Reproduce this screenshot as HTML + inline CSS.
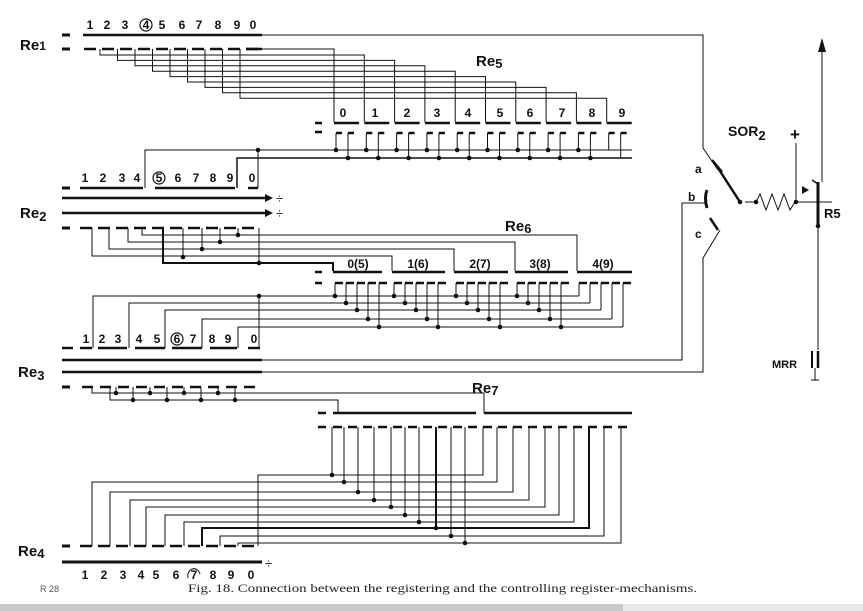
<!DOCTYPE html>
<html><head><meta charset="utf-8"><style>
html,body{margin:0;padding:0;background:#fff;width:863px;height:611px;overflow:hidden}
svg{display:block}
</style></head><body>
<svg id="s" width="863" height="611" viewBox="0 0 863 611" xmlns="http://www.w3.org/2000/svg" stroke="#111" fill="none" stroke-width="1">
<rect x="0" y="604" width="623" height="7" fill="#c9c9c9" stroke="none"/>
<rect x="623" y="604" width="240" height="7" fill="#e9e9e9" stroke="none"/>
<g stroke="none" fill="#111" font-family="Liberation Sans, sans-serif" font-weight="bold">
<text x="20" y="50" font-size="15">Re<tspan font-size="12">1</tspan></text>
<text x="20" y="218" font-size="15">Re<tspan font-size="13" dy="3">2</tspan></text>
<text x="18" y="377" font-size="15">Re<tspan font-size="13" dy="3">3</tspan></text>
<text x="18" y="556" font-size="15">Re<tspan font-size="13" dy="2">4</tspan></text>
<text x="476" y="66" font-size="15">Re<tspan font-size="13" dy="2">5</tspan></text>
<text x="505" y="231" font-size="15">Re<tspan font-size="13" dy="2">6</tspan></text>
<text x="472" y="393" font-size="15">Re<tspan font-size="13" dy="2">7</tspan></text>
<g font-size="12" text-anchor="middle">
<text x="90" y="29">1</text><text x="107" y="29">2</text><text x="125" y="29">3</text><text x="146" y="29">4</text><text x="162" y="29">5</text><text x="182" y="29">6</text><text x="199" y="29">7</text><text x="218" y="29">8</text><text x="237" y="29">9</text><text x="253" y="29">0</text>
<text x="85" y="182">1</text><text x="103" y="182">2</text><text x="122" y="182">3</text><text x="137" y="182">4</text><text x="159" y="182">5</text><text x="178" y="182">6</text><text x="196" y="182">7</text><text x="213" y="182">8</text><text x="230" y="182">9</text><text x="252" y="182">0</text>
<text x="86" y="343">1</text><text x="102" y="343">2</text><text x="118" y="343">3</text><text x="139" y="343">4</text><text x="157" y="343">5</text><text x="177" y="343">6</text><text x="193" y="343">7</text><text x="212" y="343">8</text><text x="228" y="343">9</text><text x="254" y="343">0</text>
<text x="85" y="579">1</text><text x="104" y="579">2</text><text x="123" y="579">3</text><text x="141" y="579">4</text><text x="156" y="579">5</text><text x="176" y="579">6</text><text x="194" y="579">7</text><text x="213" y="579">8</text><text x="231" y="579">9</text><text x="251" y="579">0</text>
<text x="343" y="117">0</text><text x="375" y="117">1</text><text x="407" y="117">2</text><text x="437" y="117">3</text><text x="468" y="117">4</text><text x="500" y="117">5</text><text x="530" y="117">6</text><text x="562" y="117">7</text><text x="592" y="117">8</text><text x="622" y="117">9</text>
<text x="358" y="268">0(5)</text><text x="418" y="268">1(6)</text><text x="480" y="268">2(7)</text><text x="540" y="268">3(8)</text><text x="603" y="268">4(9)</text>
</g>
<text x="728" y="136" font-size="14">SOR<tspan font-size="13" dy="4">2</tspan></text>
<text x="695" y="173" font-size="12">a</text>
<text x="688" y="201" font-size="12">b</text>
<text x="695" y="238" font-size="12">c</text>
<text x="790" y="140" font-size="17">+</text>
<text x="824" y="218" font-size="13">R5</text>
<text x="772" y="368" font-size="11">MRR</text>
<text x="40" y="592" font-size="9" font-weight="normal" fill="#555">R 28</text>
<text x="188" y="592" font-family="Liberation Serif, serif" font-weight="normal" font-size="12" fill="#222" textLength="509" lengthAdjust="spacingAndGlyphs">Fig. 18. Connection between the registering and the controlling register-mechanisms.</text>
</g>
<g id="g"></g>
</svg>
<script>
var g=document.getElementById('g'),o='';
function L(p,w){o+='<polyline points="'+p+'" stroke-width="'+(w||1)+'"/>';}
function D(x,y){o+='<circle cx="'+x+'" cy="'+y+'" r="2.3" fill="#111" stroke="none"/>';}
function C(x,y){o+='<circle cx="'+x+'" cy="'+(y-4)+'" r="6" stroke-width="1.2"/>';}
// Re1
L('62,35 70,35',3);L('62,49 70,49',3);
L('83,35 262,35',2.5);L('262,35 703,35 703,148 718,170');
C(146,29);
var r5=[];for(var i=0;i<10;i++)r5.push(334+30.3*i);
for(var i=0;i<10;i++){var x=84+18*i;L(x+',49 '+(x+12)+',49',2.5);}
L('246,49 262,49',2.5);L('262,49 '+r5[0]+',49 '+r5[0]+',122');
for(var i=0;i<9;i++){var x=100+17.5*i,y=55+5.4*i;
 L(x+',49 '+x+','+y+' '+r5[i+1]+','+y+' '+r5[i+1]+',122');}
// Re5
L('315,123 322,123',2.5);L('315,132 322,132',2.5);
for(var i=0;i<10;i++){var x=r5[i];L(x+',123 '+(x+25)+',123',2.5);
 L((x+2)+',133 '+(x+8)+',133',2.5);L((x+2)+',133 '+(x+2)+',150');
 L((x+14)+',133 '+(x+20)+',133',2.5);L((x+14)+',133 '+(x+14)+',158');
 if(i<9){D(x+2,150);D(x+14,158);}}
L('145,188 145,150 632,150');L('237,188 237,158 632,158',1.5);D(258,150);L('258,150 258,188');
// Re2
L('62,188 70,188',3);L('80,188 143,188',2.5);L('155,188 235,188',2.5);L('248,188 258,188',2.5);
C(159,182);
L('62,198 265,198',2.5);L('62,213 265,213',2.5);
o+='<path d="M265,194 l8,4 l-8,4z M265,209 l8,4 l-8,4z" fill="#111" stroke="none"/>';
o+='<text x="276" y="203" font-size="13" fill="#111" stroke="none" font-family="Liberation Sans">÷</text><text x="276" y="218" font-size="13" fill="#111" stroke="none" font-family="Liberation Sans">÷</text>';
L('62,228 70,228',3);
for(var i=0;i<10;i++){var x=80+18*i;L(x+',228 '+(x+12)+',228',2.5);}
var r6=[333,392,454,515,577],r6e=[382,445,508,568,632];
L('92,228 92,256 392,256 392,271');L('109,228 109,249 454,249 454,271');L('128,228 128,242 515,242 515,271');
L('142,228 142,235 577,235 577,271');L('163,228 163,263 333,263 333,271',2);
[[183,257],[202,249],[220,242],[238,235]].forEach(function(p){L(p[0]+',228 '+p[0]+','+p[1]);D(p[0],p[1]);});
L('259,228 259,263');D(259,263);
// Re6
L('315,272 322,272',2.5);L('315,283 322,283',2.5);
var by=[296,303,310,319,327];
for(var i=0;i<5;i++){var x=r6[i];L(x+',272 '+r6e[i]+',272',2.5);
 for(var k=0;k<5;k++){var hx=x+2+k*11,hy=by[k];L(hx+',283 '+(hx+8)+',283',2.5);L(hx+',283 '+hx+','+hy);if(i<4)D(hx,hy);}}
var bx=[93,129,165,202,238];
for(var k=0;k<5;k++){L(bx[k]+',348 '+bx[k]+','+by[k]+' '+(r6[4]+2+k*11)+','+by[k]);}
L('259,296 259,348');D(259,296);
// Re3
[[62,73],[80,92],[98,127],[135,165],[172,202],[210,237],[248,260]].forEach(function(s){L(s[0]+',348 '+s[1]+',348',2.5);});
C(177,343);
L('62,360 262,360',2.5);L('62,372 262,372',2.5);
L('262,360 682,360 682,203 706,203');L('262,372 703,372 703,258 720,230');
L('62,387 70,387',3);
for(var i=0;i<10;i++){var x=82+18*i;L(x+',387 '+(x+11)+',387',2.5);}
L('92,387 92,393 246,393');L('110,387 110,400 338,400 338,413');
for(var i=0;i<8;i++){var x=116+17*i,y=(i%2?400:393);L(x+',387 '+x+','+y);D(x,y);}
L('246,393 484,393 484,413');
// Re7
L('318,413 326,413',2.5);L('333,413 476,413',2.5);L('484,413 632,413',2.5);
L('318,427 326,427',2.5);
for(var i=0;i<20;i++){var x=333+15*i;L(x+',427 '+(x+9)+',427',2.5);}
var lx=[332,344,358,374,391,405,419,436,451,465],ly=[475,482,492,500,507,515,522,528,536,543],
    rx=[483,497,513,529,545,559,574,589,604,621],re4=[258,92,110,130,146,165,184,202,220,238];
for(var k=0;k<10;k++){var w=(k==7?2:1);L(lx[k]+',427 '+lx[k]+','+ly[k],w);D(lx[k],ly[k]);
 L(rx[k]+',427 '+rx[k]+','+ly[k]+' '+re4[k]+','+ly[k]+' '+re4[k]+',546',w);}
// Re4
L('62,546 70,546',3);
for(var i=0;i<10;i++){var x=80+18*i;L(x+',546 '+(x+12)+',546',2.5);}
L('62,562 262,562',3);
o+='<text x="265" y="568" font-size="13" fill="#111" stroke="none" font-family="Liberation Sans">÷</text>';
o+='<path d="M188,578 a6,7 0 1 1 12,-4" stroke-width="1"/>';
// right side
L('712,160 722,172',2.5);L('718,168 740,202',2.5);D(740,202);
o+='<path d="M707,190 q-3,8 0,18" stroke-width="3"/><path d="M710,218 l8,12" stroke-width="2.5"/>';
L('745,202 756,202 760,194 766,210 772,194 778,210 784,194 790,210 795,202 812,202');D(756,202);D(796,202);
L('796,143 796,202');
o+='<path d="M802,186 l7,4 l-7,4z" fill="#111" stroke="none"/>';
L('818,182 818,225',3);L('812,180 818,184',1.5);L('812,202 832,202');
L('822,40 822,182');o+='<path d="M818,52 l4,-14 l4,14z" fill="#111" stroke="none"/>';
D(818,226);L('818,226 818,350');L('812,351 812,368',2);L('818,351 818,368',2.5);L('815,368 815,380');L('811,380 819,380');
g.innerHTML=o;
</script>
</body></html>
